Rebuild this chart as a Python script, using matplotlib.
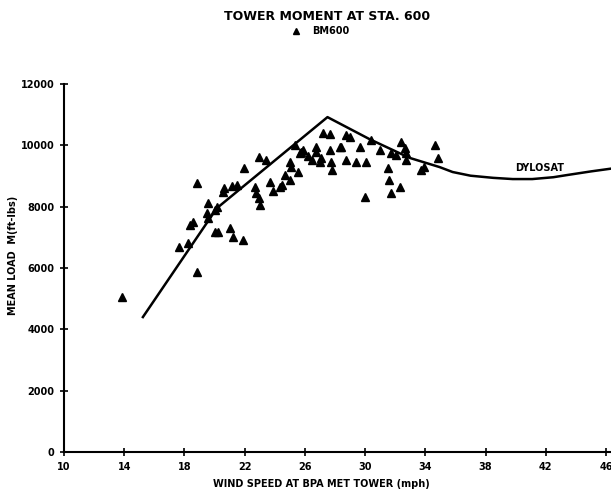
import matplotlib
matplotlib.use("Agg")
import matplotlib.pyplot as plt

# DYLOSAT prediction curve
curve_x = [15.24, 20.15, 27.5, 30.3, 32.96, 34.95, 35.81, 37.0, 38.5, 39.8, 41.1, 42.5, 43.4, 45.0, 46.33]
curve_y = [4400, 7950, 10920, 10200, 9590, 9290, 9130, 9010, 8940, 8900, 8900, 8960, 9030, 9150, 9240]

# BM600 measured points
bm_x = [13.83, 18.85, 18.85, 17.65, 18.25, 18.36, 18.54, 19.58, 19.47, 19.58, 20.02, 20.13,
        20.02, 20.24, 21.0, 21.23, 21.9, 20.57, 20.62, 21.13, 21.94, 22.96, 23.4, 22.67,
        22.78, 22.96, 23.0, 23.67, 23.89, 24.33, 24.5, 24.66, 24.99, 25.1, 25.0, 25.55,
        25.66, 25.77, 25.33, 26.44, 26.77, 26.72, 26.99, 27.2, 27.7, 27.65, 27.76, 27.83,
        28.36, 28.76, 28.71, 28.98, 25.88, 28.42, 29.42, 29.64, 30.09, 29.97, 30.41, 30.97,
        31.52, 31.59, 31.75, 32.3, 31.75, 32.07, 32.4, 32.63, 32.69, 32.74, 33.73, 34.62,
        34.85, 21.5, 26.2, 27.1, 33.9]
bm_y = [5060, 8780, 5880, 6690, 6800, 7400, 7510, 8130, 7780, 7620, 7890, 8000,
        7180, 7180, 7290, 7020, 6910, 8490, 8600, 8670, 9250, 9630, 9520, 8650,
        8430, 8270, 8050, 8810, 8520, 8650, 8700, 9030, 9470, 9300, 8870, 9140,
        9740, 9790, 10000, 9520, 9950, 9790, 9470, 10390, 10370, 9850, 9470, 9190,
        9950, 10340, 9520, 10280, 9850, 9950, 9470, 9950, 9470, 8320, 10170, 9850,
        9250, 8870, 8430, 8650, 9740, 9680, 10120, 9900, 9740, 9520, 9190, 10000,
        9580, 8700, 9650, 9600, 9300]

xticks = [10, 14, 18, 22, 26, 30, 34, 38, 42, 46]
yticks = [0, 2000, 4000, 6000, 8000, 10000, 12000]

plt.rcParams['font.family'] = ['DejaVu Sans']
fig = plt.figure(figsize=(6.11, 4.98), dpi=100)
ax = fig.add_axes([64 / 611, 46 / 498, 547 / 611, 368 / 498])

ax.plot(curve_x, curve_y, color='black', lw=1.8, clip_on=False)
ax.plot(bm_x, bm_y, linestyle='none', marker='^', color='black', markersize=5.5, label='BM600')

ax.set_xlim(10, 46.33)
ax.set_ylim(0, 12000)
ax.set_xticks(xticks)
ax.set_yticks(yticks)
ax.set_xticklabels([str(t) for t in xticks], fontsize=7, fontweight='bold')
ax.set_yticklabels([str(t) for t in yticks], fontsize=7, fontweight='bold')
ax.tick_params(direction='inout', length=6, width=1.2, pad=4)
for s in ['top', 'right']:
    ax.spines[s].set_visible(False)
ax.spines['left'].set_linewidth(1.5)
ax.spines['bottom'].set_linewidth(1.5)

ax.text(41.6, 9260, 'DYLOSAT', fontsize=7, fontweight='bold', ha='center', va='center')

fig.text(327 / 611, 1 - 16 / 498, 'TOWER MOMENT AT STA. 600', fontsize=9, fontweight='bold',
         ha='center', va='center')
fig.legend(loc='center', bbox_to_anchor=(318 / 611, 1 - 31 / 498), frameon=False,
           prop={'size': 7, 'weight': 'bold'}, handletextpad=0.6, markerscale=0.9)

fig.text(321 / 611, 1 - 484 / 498, 'WIND SPEED AT BPA MET TOWER (mph)', fontsize=7,
         fontweight='bold', ha='center', va='center')
fig.text(13 / 611, 1 - 255 / 498, 'MEAN LOAD  M(ft-lbs)', fontsize=7, fontweight='bold',
         ha='center', va='center', rotation=90)

fig.savefig('out.png', dpi=100)
